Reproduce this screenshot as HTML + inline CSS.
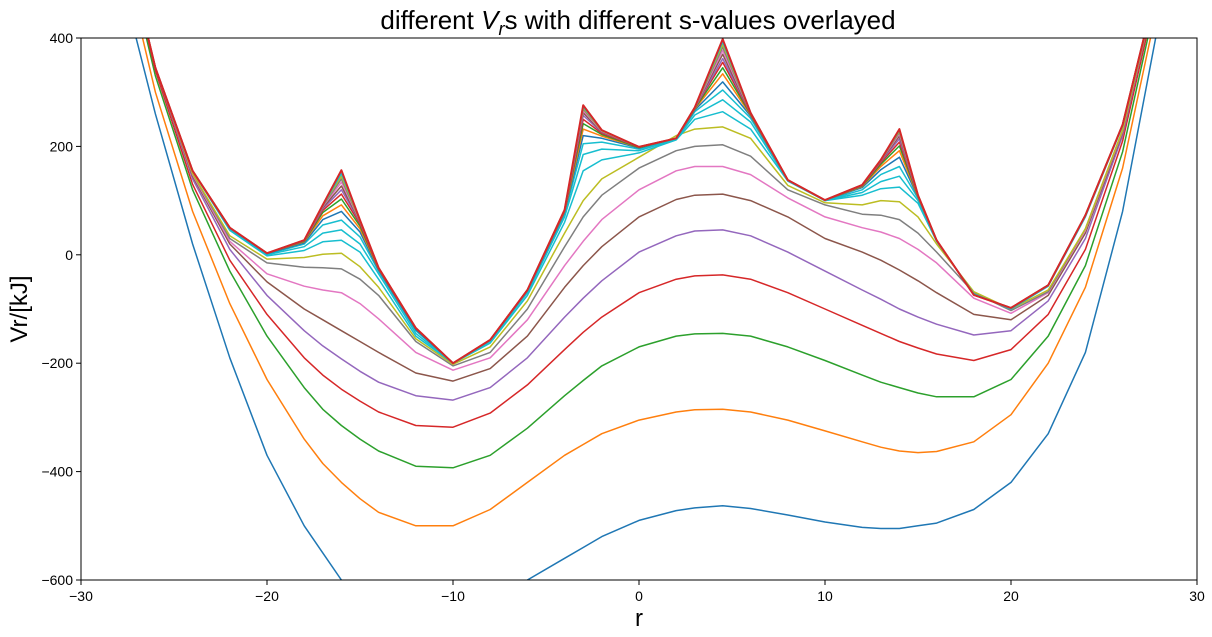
<!DOCTYPE html>
<html><head><meta charset="utf-8"><style>
body{margin:0;background:#fff;}
svg{display:block;font-family:"Liberation Sans","DejaVu Sans",sans-serif;}
</style></head><body>
<svg id="chart" width="1212" height="637" viewBox="0 0 1212 637" xmlns="http://www.w3.org/2000/svg">
<defs><clipPath id="clip"><rect x="81" y="38" width="1116" height="542"/></clipPath></defs>
<rect width="1212" height="637" fill="#fff"/>
<text x="638" y="29" text-anchor="middle" font-size="26">different <tspan font-style="italic">V</tspan><tspan font-style="italic" font-size="18" dy="6">r</tspan><tspan dy="-6">s with different s-values overlayed</tspan></text>
<g id="series" clip-path="url(#clip)"></g>
<rect x="81" y="38" width="1116" height="542" fill="none" stroke="#000" stroke-width="1"/>
<g id="axes"></g>
<text x="639" y="626" text-anchor="middle" font-size="24">r</text>
<text transform="translate(27,309) rotate(-90)" text-anchor="middle" font-size="24">Vr/[kJ]</text>
</svg>
<script>
const R = [-30,-28,-26,-24,-22,-20,-18,-17,-16,-15,-14,-12,-10,-8,-6,-4,-3,-2,0,2,3,4.5,6,8,10,12,13,14,15,16,18,20,22,24,26,28,30];
const s1 = [820,530,260,20,-190,-370,-500,-550,-600,-640,-680,-740,-760,-720,-600,-560,-540,-520,-490,-472,-467,-463,-468,-480,-493,-503,-505,-505,-500,-495,-470,-420,-330,-180,80,440,900];
const s2 = [900,590,300,80,-90,-230,-340,-385,-420,-450,-475,-500,-500,-470,-420,-370,-350,-330,-305,-290,-286,-285,-290,-305,-325,-345,-355,-362,-365,-363,-345,-295,-200,-60,160,480,900];
const s3 = [950,620,330,120,-30,-150,-245,-285,-315,-340,-362,-390,-393,-370,-320,-260,-232,-205,-170,-150,-146,-145,-150,-170,-195,-222,-235,-245,-255,-262,-262,-230,-150,-20,190,500,920];
const s4 = [960,630,340,130,-10,-110,-190,-222,-248,-270,-290,-315,-318,-292,-240,-175,-143,-115,-70,-45,-39,-37,-45,-70,-100,-130,-145,-160,-172,-183,-195,-175,-110,10,210,510,920];
const s5 = [960,630,345,140,10,-75,-140,-168,-192,-215,-235,-260,-268,-245,-190,-115,-80,-48,5,35,44,46,35,5,-30,-65,-82,-100,-115,-128,-148,-140,-85,30,220,520,930];
const s6 = [960,630,345,145,20,-50,-100,-120,-140,-160,-180,-218,-233,-210,-150,-60,-20,15,70,102,110,112,100,70,30,5,-10,-28,-48,-70,-110,-120,-75,40,225,520,930];
const s7 = [960,630,345,148,25,-35,-58,-65,-70,-90,-118,-180,-213,-190,-120,-20,25,65,120,155,163,163,148,105,70,50,42,30,10,-15,-80,-108,-70,45,228,520,930];
const s8 = [960,630,345,150,30,-15,-23,-24,-26,-45,-75,-160,-205,-180,-100,15,70,110,160,192,200,203,182,120,92,75,73,65,40,5,-70,-103,-68,48,230,520,930];
const s9 = [960,630,345,150,35,-8,-5,1,3,-22,-60,-155,-202,-170,-85,40,100,140,180,220,232,236,215,128,96,92,100,98,70,20,-68,-100,-65,48,230,520,930];
const s10 = [960,630,345,155,45,-2,8,24,27,5,-45,-150,-200,-163,-75,60,155,175,188,212,250,264,232,136,100,110,122,125,95,25,-72,-100,-58,70,238,520,930];
const s11 = [960,630,345,155,47,0,15,40,46,20,-35,-145,-200,-160,-70,70,185,195,192,213,258,286,245,137,100,115,135,145,100,26,-73,-99,-57,72,239,520,930];
const s12 = [960,630,345,155,48,1,20,55,64,33,-30,-140,-200,-158,-68,75,205,208,195,214,264,304,252,138,100,120,148,163,104,27,-74,-98,-56,73,240,520,930];
const s13 = [960,630,345,155,49,2,22,65,80,42,-28,-138,-200,-157,-66,78,220,215,197,215,267,319,256,138,101,124,157,180,106,27,-74,-98,-56,73,240,520,930];
const s14 = [960,630,345,155,50,3,24,72,92,48,-26,-136,-200,-157,-65,80,232,219,198,215,269,334,258,138,101,126,163,192,107,27,-74,-98,-56,73,240,520,930];
const s15 = [960,630,345,155,50,3,25,78,103,53,-25,-136,-200,-157,-65,81,242,222,198,215,270,345,259,138,101,127,167,201,108,27,-74,-98,-56,73,240,520,930];
const s16 = [960,630,345,155,50,3,26,82,112,57,-25,-135,-200,-157,-65,82,250,224,199,215,271,355,260,138,101,128,170,208,109,27,-74,-98,-56,73,240,520,930];
const s17 = [960,630,345,155,50,3,26,85,120,60,-24,-135,-200,-157,-65,82,257,226,199,215,271,362,261,138,101,128,172,214,109,27,-74,-98,-56,73,240,520,930];
const s18 = [960,630,345,155,50,3,27,87,127,61,-24,-135,-200,-157,-65,83,262,227,199,215,272,370,261,138,101,129,173,219,110,27,-74,-98,-56,73,240,520,930];
const s19 = [960,630,345,155,50,3,27,89,134,62,-24,-135,-200,-157,-65,83,266,228,199,215,272,377,262,138,101,129,174,223,110,27,-74,-98,-56,73,240,520,930];
const s20 = [960,630,345,155,50,3,27,90,140,63,-24,-135,-200,-157,-65,83,269,229,199,215,272,383,262,138,101,129,174,226,110,27,-74,-98,-56,73,240,520,930];
const s21 = [960,630,345,155,50,3,27,91,145,63,-24,-135,-200,-157,-65,83,271,229,199,215,272,388,262,138,101,129,175,228,110,27,-74,-98,-56,73,240,520,930];
const s22 = [960,630,345,155,50,3,27,91,150,64,-24,-135,-200,-157,-65,83,273,230,199,215,272,393,262,138,101,129,175,230,110,27,-74,-98,-56,73,240,520,930];
const s23 = [960,630,345,155,50,3,27,92,156,64,-24,-135,-200,-157,-65,83,276,230,199,215,272,398,262,138,101,129,175,232,110,27,-74,-98,-56,73,240,520,930];
const seriesList = [s1,s2,s3,s4,s5,s6,s7,s8,s9,s10,s11,s12,s13,s14,s15,s16,s17,s18,s19,s20,s21,s22,s23];
const xTicks = [-30,-20,-10,0,10,20,30];
const yTicks = [400,200,0,-200,-400,-600];
const palette = ['#1f77b4','#ff7f0e','#2ca02c','#d62728','#9467bd','#8c564b','#e377c2','#7f7f7f','#bcbd22','#17becf','#17becf','#17becf','#1f77b4','#ff7f0e','#2ca02c','#d62728','#9467bd','#8c564b','#e377c2','#7f7f7f','#bcbd22','#17becf','#d62728'];
const X0=81,X1=1197,Y0=38,Y1=580;
function xs(v){return X0+(v+30)/60*(X1-X0);}
function ys(v){return Y0+(400-v)/1000*(Y1-Y0);}
const NS='http://www.w3.org/2000/svg';
const g=document.getElementById('series');
seriesList.forEach((s,i)=>{
  const p=document.createElementNS(NS,'path');
  p.setAttribute('d',s.map((v,k)=>(k?'L':'M')+xs(R[k]).toFixed(1)+','+ys(v).toFixed(1)).join(''));
  p.setAttribute('fill','none');
  p.setAttribute('stroke',palette[i]);
  p.setAttribute('stroke-width',i===seriesList.length-1?'2':'1.5');
  p.setAttribute('stroke-linejoin','round');
  
  
  g.appendChild(p);
});
const ax=document.getElementById('axes');
xTicks.forEach(t=>{
  const l=document.createElementNS(NS,'line');
  l.setAttribute('x1',xs(t));l.setAttribute('x2',xs(t));l.setAttribute('y1',Y1);l.setAttribute('y2',Y1+5);l.setAttribute('stroke','#000');
  
  
  ax.appendChild(l);
  const tx=document.createElementNS(NS,'text');
  tx.setAttribute('x',xs(t));tx.setAttribute('y',Y1+21);tx.setAttribute('text-anchor','middle');tx.setAttribute('font-size','14');
  tx.textContent=String(t).replace('-','\u2212');
  
  
  ax.appendChild(tx);
});
yTicks.forEach(t=>{
  const l=document.createElementNS(NS,'line');
  l.setAttribute('x1',X0-5);l.setAttribute('x2',X0);l.setAttribute('y1',ys(t));l.setAttribute('y2',ys(t));l.setAttribute('stroke','#000');
  
  
  ax.appendChild(l);
  const tx=document.createElementNS(NS,'text');
  tx.setAttribute('x',X0-8);tx.setAttribute('y',ys(t)+5);tx.setAttribute('text-anchor','end');tx.setAttribute('font-size','14');
  tx.textContent=String(t).replace('-','\u2212');
  
  
  ax.appendChild(tx);
});
</script>
</body></html>
